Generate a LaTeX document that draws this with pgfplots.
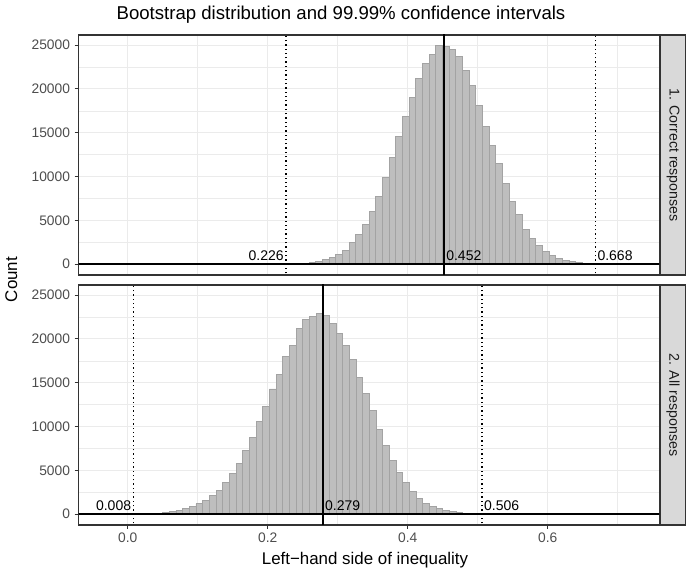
\documentclass[border=0pt]{standalone}
\usepackage{pgfplots}
\pgfplotsset{compat=1.18}
\usepackage{pgfplotstable}
\usepackage{fontspec}
\setmainfont{Liberation Sans}

\definecolor{cgray20}{HTML}{333333}
\definecolor{cgray30}{HTML}{4D4D4D}
\definecolor{cgray10}{HTML}{1A1A1A}
\definecolor{gridgray}{HTML}{EBEBEB}
\definecolor{stripgray}{HTML}{D9D9D9}
\definecolor{barfill}{HTML}{BEBEBE}
\definecolor{baredge}{HTML}{A3A3A3}

% left bin edge, count
\pgfplotstableread{
x y
0.21138 10
0.22091 20
0.23043 40
0.23996 75
0.24948 115
0.25900 190
0.26853 305
0.27805 495
0.28758 760
0.29710 1065
0.30662 1520
0.31615 2435
0.32567 3390
0.33520 4530
0.34472 5970
0.35424 7720
0.36377 9890
0.37329 12140
0.38282 14610
0.39234 16860
0.40186 19060
0.41139 21190
0.42091 22900
0.43044 23970
0.43996 24900
0.44948 24800
0.45901 24450
0.46853 23670
0.47806 22150
0.48758 20360
0.49710 18070
0.50663 15710
0.51615 13510
0.52568 11490
0.53520 9250
0.54472 7150
0.55425 5670
0.56377 3960
0.57330 2890
0.58282 2130
0.59234 1445
0.60187 990
0.61139 650
0.62092 420
0.63044 265
0.63996 150
0.64949 115
0.65901 75
0.66854 40
0.67806 20
0.68758 10
0.69711 0
}\toptable

\pgfplotstableread{
x y
0.00232 10
0.01185 20
0.02137 40
0.03090 75
0.04042 115
0.04994 190
0.05947 265
0.06899 420
0.07852 610
0.08804 870
0.09756 1180
0.10709 1560
0.11661 2130
0.12614 2700
0.13566 3650
0.14518 4670
0.15471 5740
0.16423 7260
0.17376 8740
0.18328 10560
0.19280 12310
0.20233 14280
0.21185 15990
0.22138 17970
0.23090 19300
0.24042 21200
0.24995 22220
0.25947 22600
0.26899 22910
0.27852 22640
0.28804 21810
0.29757 20590
0.30709 19220
0.31661 17700
0.32614 15580
0.33566 13750
0.34519 11850
0.35471 9650
0.36423 7830
0.37376 6120
0.38328 4750
0.39281 3650
0.40233 2580
0.41185 1820
0.42138 1250
0.43090 910
0.44043 610
0.44995 420
0.45947 265
0.46900 190
0.47852 115
0.48805 60
0.49757 30
0.50709 15
0.51662 0
}\bottomtable

\pgfplotsset{
  panel/.style={
    scale only axis, width=580.6pt, height=240pt,
    xmin=-0.070, xmax=0.7594, ymin=-1245, ymax=26150,
    scaled y ticks=false, scaled x ticks=false,
    xtick={0,0.2,0.4,0.6}, xticklabels={0.0,0.2,0.4,0.6},
    ytick={0,5000,10000,15000,20000,25000},
    yticklabels={0,5000,10000,15000,20000,25000},
    minor xtick={0.1,0.3,0.5,0.7},
    minor ytick={2500,7500,12500,17500,22500},
    grid=both,
    major grid style={draw=gridgray, line width=1.1pt},
    minor grid style={draw=gridgray, line width=0.55pt},
    minor tick length=0pt,
    major tick length=4pt,
    tick align=outside,
    tick pos=left,
    tick style={draw=cgray20, line width=1.07pt},
    axis line style={draw=cgray20, line width=1.07pt},
    tick label style={font=\fontsize{13.8}{15}\selectfont, text=cgray30},
    yticklabel style={xshift=-1.2pt},
    /pgf/number format/assume math mode=true,
  },
  bars/.style={ybar interval, fill=barfill, draw=baredge, line width=0.9pt},
  ci/.style={black, line width=1.4pt, dash pattern=on 1.3pt off 3pt},
  est/.style={black, line width=1.25pt},
  zero/.style={black, line width=1.3pt},
}
\tikzset{lab/.style={font=\fontsize{14}{15}\selectfont, inner sep=0pt}}

\begin{document}
\begin{tikzpicture}
\useasboundingbox (0,0) rectangle (686pt,568pt);

% 1. Correct responses
\begin{axis}[panel, at={(78.7pt,293pt)}, anchor=south west,
  xticklabels={}, xmajorticks=false]
\addplot[bars] table[x=x, y=y] {\toptable};
\addplot[zero] coordinates {(-0.2,0) (0.9,0)};
\addplot[ci] coordinates {(0.226,-5000) (0.226,30000)};
\addplot[ci] coordinates {(0.668,-5000) (0.668,30000)};
\addplot[est] coordinates {(0.452,-5000) (0.452,30000)};
\node[lab, anchor=south east, xshift=-2pt, yshift=3.3pt] at (axis cs:0.226,0) {0.226};
\node[lab, anchor=south west, xshift=2pt, yshift=3.3pt] at (axis cs:0.452,0) {0.452};
\node[lab, anchor=south west, xshift=2pt, yshift=3.3pt] at (axis cs:0.668,0) {0.668};
\end{axis}

% 2. All responses
\begin{axis}[panel, at={(78.7pt,43pt)}, anchor=south west]
\addplot[bars] table[x=x, y=y] {\bottomtable};
\addplot[zero] coordinates {(-0.2,0) (0.9,0)};
\addplot[ci] coordinates {(0.008,-5000) (0.008,30000)};
\addplot[ci] coordinates {(0.506,-5000) (0.506,30000)};
\addplot[est] coordinates {(0.279,-5000) (0.279,30000)};
\node[lab, anchor=south east, xshift=-2pt, yshift=3.3pt] at (axis cs:0.008,0) {0.008};
\node[lab, anchor=south west, xshift=2pt, yshift=3.3pt] at (axis cs:0.279,0) {0.279};
\node[lab, anchor=south west, xshift=2pt, yshift=3.3pt] at (axis cs:0.506,0) {0.506};
\end{axis}

% facet strips
\draw[fill=stripgray, draw=cgray20, line width=1.07pt] (660.6pt,293pt) rectangle (685.4pt,533pt);
\draw[fill=stripgray, draw=cgray20, line width=1.07pt] (660.6pt,43pt) rectangle (685.4pt,283pt);
\node[rotate=-90, text=cgray10, font=\fontsize{14.2}{15}\selectfont] at (673pt,413pt) {1. Correct responses};
\node[rotate=-90, text=cgray10, font=\fontsize{14.2}{15}\selectfont] at (673pt,163pt) {2. All responses};

% titles
\node[anchor=base, font=\fontsize{18.6}{20}\selectfont] at (341pt,548.7pt) {Bootstrap distribution and 99.99\% confidence intervals};
\node[anchor=base, font=\fontsize{16.9}{19}\selectfont] at (365pt,3.8pt) {Left−hand side of inequality};
\node[anchor=base, rotate=90, font=\fontsize{16.9}{19}\selectfont] at (17pt,288.5pt) {Count};
\end{tikzpicture}
\end{document}
